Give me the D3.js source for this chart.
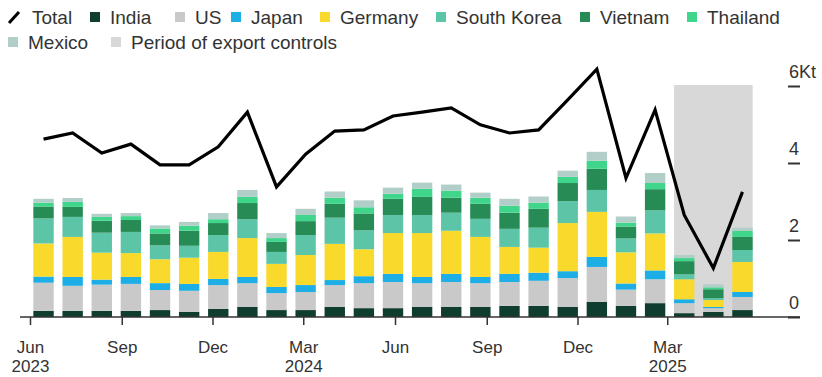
<!DOCTYPE html>
<html>
<head>
<meta charset="utf-8">
<script src="https://cdn.jsdelivr.net/npm/d3@7"></script>
<style>
  html, body { margin: 0; padding: 0; background: #fff; }
  svg { display: block; font-family: "Liberation Sans", Arial, sans-serif; }
</style>
</head>
<body>
<svg id="chart" width="822" height="377"></svg>
<script>
// Monthly exports, thousand tonnes (Kt)
const months = [
  "2023-06","2023-07","2023-08","2023-09","2023-10","2023-11","2023-12",
  "2024-01","2024-02","2024-03","2024-04","2024-05","2024-06","2024-07",
  "2024-08","2024-09","2024-10","2024-11","2024-12",
  "2025-01","2025-02","2025-03","2025-04","2025-05","2025-06"
];
const india      = [0.16,0.16,0.16,0.16,0.18,0.13,0.21,0.26,0.18,0.18,0.26,0.23,0.23,0.26,0.26,0.26,0.29,0.29,0.26,0.39,0.29,0.36,0.10,0.13,0.18];
const us         = [0.73,0.65,0.68,0.70,0.52,0.55,0.62,0.62,0.44,0.47,0.57,0.65,0.68,0.62,0.65,0.62,0.62,0.65,0.75,0.91,0.42,0.62,0.26,0.10,0.34];
const japan      = [0.16,0.23,0.13,0.18,0.18,0.18,0.16,0.16,0.16,0.18,0.13,0.18,0.21,0.16,0.21,0.16,0.21,0.21,0.18,0.26,0.16,0.23,0.10,0.03,0.13];
const germany    = [0.86,1.04,0.70,0.62,0.62,0.68,0.70,1.01,0.60,0.78,0.94,0.70,1.06,1.14,1.12,1.04,0.70,0.65,1.25,1.17,0.81,0.96,0.52,0.18,0.78];
const southKorea = [0.65,0.52,0.52,0.55,0.36,0.31,0.44,0.49,0.31,0.52,0.68,0.49,0.47,0.47,0.47,0.47,0.47,0.52,0.57,0.57,0.36,0.60,0.13,0.05,0.31];
const vietnam    = [0.31,0.26,0.31,0.31,0.31,0.39,0.31,0.42,0.26,0.36,0.36,0.44,0.42,0.47,0.39,0.39,0.42,0.49,0.47,0.55,0.31,0.55,0.34,0.23,0.34];
const thailand   = [0.10,0.13,0.10,0.10,0.13,0.13,0.10,0.16,0.10,0.16,0.16,0.16,0.13,0.21,0.18,0.16,0.18,0.16,0.16,0.21,0.10,0.16,0.08,0.05,0.16];
const mexico     = [0.10,0.10,0.08,0.08,0.08,0.10,0.16,0.18,0.13,0.16,0.16,0.18,0.16,0.16,0.16,0.13,0.18,0.16,0.16,0.23,0.16,0.26,0.08,0.08,0.08];
const total      = [4.62,4.78,4.26,4.49,3.95,3.95,4.42,5.32,3.38,4.23,4.83,4.86,5.22,5.32,5.43,4.99,4.78,4.86,5.64,6.44,3.61,5.38,2.65,1.27,3.25];

// Months under export controls
const controlMonths = ["2025-04","2025-05","2025-06"];

// Axis ticks
const xTickMonths = ["2023-06","2023-09","2023-12","2024-03","2024-06","2024-09","2024-12","2025-03"];
const xTickLabels = ["Jun","Sep","Dec","Mar","Jun","Sep","Dec","Mar"];
const xTickYears  = ["2023","","","2024","","","","2025"];
const yTicks = [0, 2, 4, 6];
const yUnit = "Kt";

const seriesNames  = ["India","US","Japan","Germany","South Korea","Vietnam","Thailand","Mexico"];
const seriesValues = [india, us, japan, germany, southKorea, vietnam, thailand, mexico];
const seriesColors = ["#0f3d2f","#c9c9c9","#1eaee6","#f8d92c","#5cc5a7","#268b55","#3fd58b","#b2cec8"];
const shadeColor = "#d8d8d8";
const inkColor = "#333";

const svg = d3.select("#chart");

const parseMonth = d3.utcParse("%Y-%m");

const x = d3.scaleBand().domain(months).range([24.6, 761.4]).padding(0.3);
const xTime = d3.scaleUtc()
  .domain([parseMonth(months[0]), parseMonth(months[months.length - 1])])
  .range([30, 759]);
const y = d3.scaleLinear().domain([0, 6]).range([317, 86]);

// Shaded period of export controls
const shadeStart = x(controlMonths[0]);
const shadeEnd = x(controlMonths[controlMonths.length - 1]) + x.bandwidth();
svg.append("rect")
  .attr("x", shadeStart)
  .attr("y", y(6) - 1)
  .attr("width", shadeEnd - shadeStart)
  .attr("height", y(0) - y(6) + 1)
  .attr("fill", shadeColor);

// Stacked bars
const table = months.map((m, i) => {
  const row = { month: m };
  seriesNames.forEach((name, k) => { row[name] = seriesValues[k][i]; });
  return row;
});
const stacked = d3.stack().keys(seriesNames)(table);

svg.append("g")
  .selectAll("g")
  .data(stacked)
  .join("g")
  .attr("fill", (d, i) => seriesColors[i])
  .selectAll("rect")
  .data(d => d)
  .join("rect")
  .attr("x", d => x(d.data.month))
  .attr("width", x.bandwidth())
  .attr("y", d => y(d[1]))
  .attr("height", d => y(d[0]) - y(d[1]));

// Right axis: short dashes with labels above
const yAxis = d3.axisRight(y)
  .tickValues(yTicks)
  .tickSize(12)
  .tickFormat(d => d === 6 ? d + yUnit : d);
const yAxisG = svg.append("g")
  .attr("transform", "translate(788,0)")
  .call(yAxis);
yAxisG.select(".domain").remove();
yAxisG.selectAll(".tick line")
  .attr("stroke", inkColor)
  .attr("stroke-width", 2);
yAxisG.selectAll(".tick text")
  .attr("x", 1)
  .attr("y", -9)
  .attr("dy", 0)
  .attr("text-anchor", "start")
  .attr("fill", inkColor)
  .style("font-size", "18px")
  .style("font-family", "'Liberation Sans', Arial, sans-serif");

// Bottom axis
const xAxis = d3.axisBottom(xTime)
  .tickValues(xTickMonths.map(parseMonth))
  .tickSize(8)
  .tickFormat("");
const xAxisG = svg.append("g")
  .attr("transform", `translate(0,${y(0)})`)
  .call(xAxis);
xAxisG.select(".domain").remove();
xAxisG.selectAll(".tick line")
  .attr("stroke", inkColor)
  .attr("stroke-width", 1.5);
xAxisG.selectAll(".tick").each(function(d, i) {
  const tick = d3.select(this);
  const style = sel => sel
    .attr("text-anchor", "middle")
    .attr("fill", inkColor)
    .style("font-size", "17px")
    .style("font-family", "'Liberation Sans', Arial, sans-serif");
  tick.append("text").attr("x", 0).attr("y", 36).call(style).text(xTickLabels[i]);
  if (xTickYears[i]) {
    tick.append("text").attr("x", 0).attr("y", 55).call(style).text(xTickYears[i]);
  }
});

// Baseline
svg.append("line")
  .attr("x1", 20).attr("x2", 800)
  .attr("y1", y(0)).attr("y2", y(0))
  .attr("stroke", inkColor)
  .attr("stroke-width", 1.5);

// Total line
const line = d3.line()
  .x((d, i) => x(months[i]) + x.bandwidth() / 2)
  .y(d => y(d));
svg.append("path")
  .datum(total)
  .attr("fill", "none")
  .attr("stroke", "#000")
  .attr("stroke-width", 3.2)
  .attr("stroke-linejoin", "miter")
  .attr("d", line);

// Legend
const legendItems = [
  { label: "Total", type: "line" },
  ...seriesNames.map((name, k) => ({ label: name, type: "box", color: seriesColors[k] })),
  { label: "Period of export controls", type: "box", color: shadeColor }
];
const legendPos = [
  [8,0],[90,0],[175,0],[231,0],[320,0],[436,0],[580,0],[687,0],
  [8,1],[111,1]
];
const legend = svg.append("g").style("font-size", "19px");
legendItems.forEach((item, i) => {
  const [lx, row] = legendPos[i];
  const base = 24 + row * 25;
  const g = legend.append("g").attr("transform", `translate(${lx},${base})`);
  if (item.type === "line") {
    g.append("line")
      .attr("x1", 1).attr("y1", -1)
      .attr("x2", 11).attr("y2", -12)
      .attr("stroke", "#000").attr("stroke-width", 3);
  } else {
    g.append("rect")
      .attr("x", 0).attr("y", -12)
      .attr("width", 10).attr("height", 10)
      .attr("fill", item.color);
  }
  g.append("text")
    .attr("x", item.type === "line" ? 24 : 20)
    .attr("y", 0)
    .attr("fill", inkColor)
    .text(item.label);
});
</script>
</body>
</html>
